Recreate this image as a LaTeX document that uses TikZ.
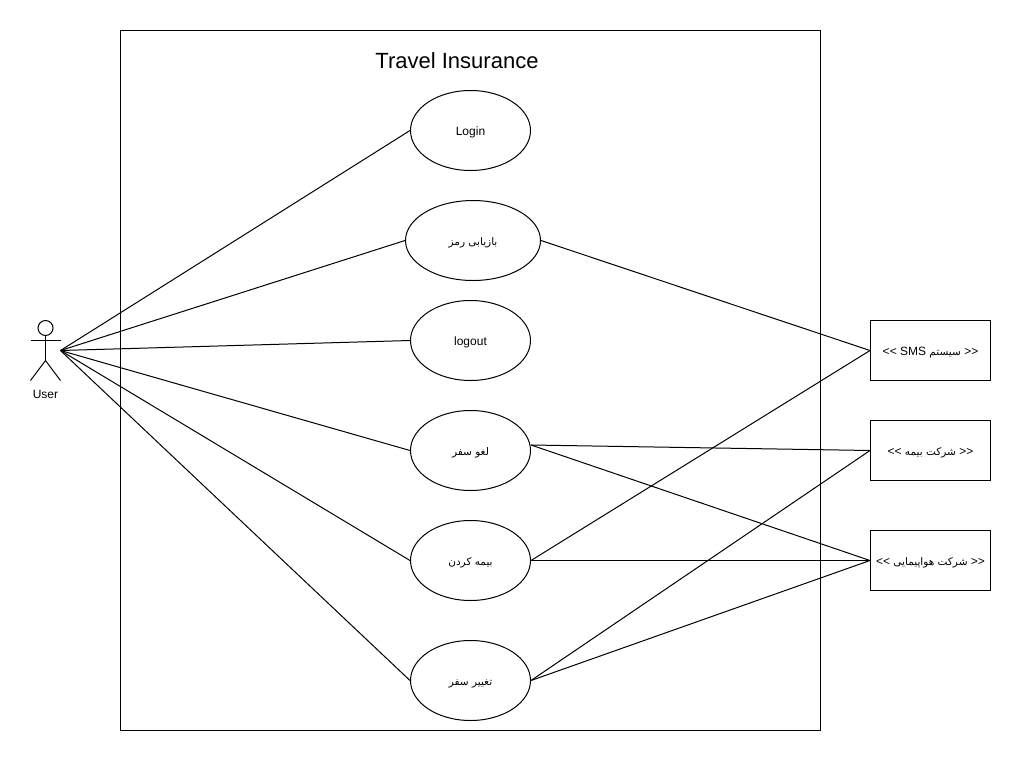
\documentclass[tikz,border=0pt]{standalone}
\usepackage{fontspec}
\setmainfont{Liberation Sans}
\newfontfamily\arabicfont[Script=Arabic]{DejaVu Sans}
\TeXXeTstate=1
\usetikzlibrary{shapes.geometric}
\tikzset{
  every node/.style={font=\fontsize{12}{14}\selectfont, text=black},
  usecase/.style={draw=black, line width=1pt, ellipse, inner sep=0pt, fill=white, text height=9.5pt, text depth=0pt},
  sysbox/.style={draw=black, line width=1pt, rectangle, inner sep=0pt, minimum width=120pt, minimum height=60pt, fill=white, text height=9.5pt, text depth=0pt},
  link/.style={draw=black, line width=1pt},
  actorline/.style={draw=black, line width=1pt}
}
\newcommand{\ar}[1]{{\arabicfont\fontsize{10.5}{14}\selectfont\beginR #1\endR}}
\begin{document}
\begin{tikzpicture}[x=1pt,y=-1pt]
\useasboundingbox (0,0) rectangle (1021,761);
\fill[white] (0,0) rectangle (1021,761);
\node[draw=black,line width=1pt,minimum width=700pt,minimum height=700pt,inner sep=0pt] (frame) at (470.5,380.5) {};
\node[font=\fontsize{22}{26}\selectfont] (title) at (457,61) {Travel Insurance};
% ellipses
\node[usecase,minimum width=120pt,minimum height=80pt] (login) at (470.5,130.5) {Login};
\node[usecase,minimum width=135pt,minimum height=80pt] (rec) at (473,240.5) {\ar{بازیابی رمز}};
\node[usecase,minimum width=120pt,minimum height=80pt] (logout) at (470.5,340.5) {logout};
\node[usecase,minimum width=120pt,minimum height=80pt] (cancel) at (470.5,450.5) {\ar{لغو سفر}};
\node[usecase,minimum width=120pt,minimum height=80pt] (buy) at (470.5,560.5) {\ar{بیمه کردن}};
\node[usecase,minimum width=120pt,minimum height=80pt] (chg) at (470.5,680.5) {\ar{تغییر سفر}};
% boxes
\node[sysbox] (sms) at (930.5,350.5) {<{}< SMS \ar{سیستم} >{}>};
\node[sysbox] (ins) at (930.5,450.5) {<{}< \ar{شرکت بیمه} >{}>};
\node[sysbox] (air) at (930.5,560.5) {<{}< \ar{شرکت هواپیمایی} >{}>};
% actor
\coordinate (hand) at (60.5,350.5);
\coordinate (cancelout) at (531,445);
\draw[actorline] (45.5,328) circle (7.5pt);
\draw[actorline] (45.5,335.5) -- (45.5,360.5);
\draw[actorline] (30.5,340.5) -- (60.5,340.5);
\draw[actorline] (30.5,380.5) -- (45.5,360.5) -- (60.5,380.5);
\node (user) at (45.5,394.5) {User};
% connectors
\draw[link] (hand) -- (login.west);
\draw[link] (hand) -- (rec.west);
\draw[link] (hand) -- (logout.west);
\draw[link] (hand) -- (cancel.west);
\draw[link] (hand) -- (buy.west);
\draw[link] (hand) -- (chg.west);
\draw[link] (rec.east) -- (sms.west);
\draw[link] (buy.east) -- (sms.west);
\draw[link] (cancelout) -- (ins.west);
\draw[link] (cancelout) -- (air.west);
\draw[link] (buy.east) -- (air.west);
\draw[link] (chg.east) -- (ins.west);
\draw[link] (chg.east) -- (air.west);
\end{tikzpicture}
\end{document}
